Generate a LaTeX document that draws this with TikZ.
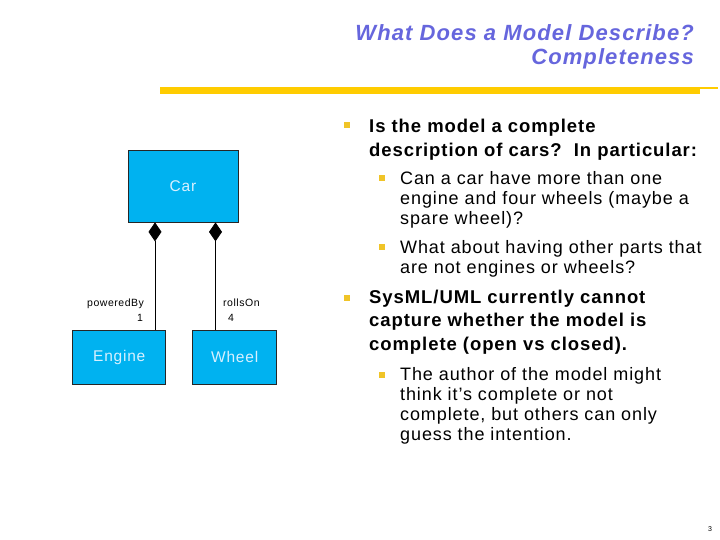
\documentclass[tikz,border=0pt]{standalone}
\usepackage{fontspec}
\setmainfont{Liberation Sans}
\newfontfamily\lsp[LetterSpace=5]{Liberation Sans}
\usetikzlibrary{arrows.meta}
\definecolor{boxblue}{RGB}{0,178,240}
\definecolor{boxtext}{RGB}{215,240,255}
\definecolor{titleblue}{RGB}{102,102,221}
\definecolor{bargold}{RGB}{255,204,0}
\definecolor{bulletgold}{RGB}{240,196,40}
\tikzset{
  umlbox/.style={draw=black!85, line width=0.8pt, fill=boxblue, text=boxtext, font=\lsp\fontsize{15.5}{18}\selectfont, inner sep=0pt},
  comp/.style={line width=0.8pt, {Diamond[length=19pt,width=13pt,fill=black]}-},
  rolelab/.style={anchor=base west, inner sep=0pt, font=\lsp\fontsize{10.5}{12}\selectfont},
  lvlone/.style={anchor=base west, inner sep=0pt, align=left, font=\lsp\bfseries\fontsize{18.5}{23.5}\selectfont},
  lvltwo/.style={anchor=base west, inner sep=0pt, align=left, font=\lsp\fontsize{18}{20}\selectfont},
  bul/.style={fill=bulletgold, minimum width=6pt, minimum height=6pt, inner sep=0pt},
  titletext/.style={anchor=base east, inner sep=0pt, align=right, text=titleblue, font=\lsp\bfseries\itshape\fontsize{22}{24}\selectfont}
}
\begin{document}
\begin{tikzpicture}[x=1pt,y=-1pt]
\useasboundingbox (0,0) rectangle (720,540);
% title
\node[titletext] (t1) at (694,41) {What Does a Model Describe?};
\node[titletext] (t2) at (694,65) {Completeness};
% bar
\fill[bargold] (160,87) rectangle (700,94);
\fill[bargold] (700,87) rectangle (718,89);
% diagram
\node[umlbox, minimum width=110pt, minimum height=72pt] (car) at (183,186) {Car};
\node[umlbox, minimum width=93pt, minimum height=54pt] (engine) at (119.3,357.3) {Engine};
\node[umlbox, minimum width=84pt, minimum height=54pt] (wheel) at (234.7,357.3) {Wheel};
\coordinate (xl) at (155,0);
\coordinate (xr) at (215.5,0);
\draw[comp] (car.south -| xl) -- (engine.north -| xl);
\draw[comp] (car.south -| xr) -- (wheel.north -| xr);
\node[rolelab] (pb) at (87,306) {poweredBy};
\node[rolelab] (m1) at (137,321) {1};
\node[rolelab] (ro) at (223,306) {rollsOn};
\node[rolelab] (m4) at (228,321) {4};
% bullets (text nodes anchored at the baseline of their last line)
\node[bul] (b1) at (346.5,125) {};
\node[lvlone] (p1) at (369,156.5) {Is the model a complete\\description of cars?\ \ In particular:};
\node[bul] (b2) at (381.7,178) {};
\node[lvltwo] (p2) at (400,225) {Can a car have more than one\\engine and four wheels (maybe a\\spare wheel)?};
\node[bul] (b3) at (381.7,247) {};
\node[lvltwo] (p3) at (400,273) {What about having other parts that\\are not engines or wheels?};
\node[bul] (b4) at (346.5,298) {};
\node[lvlone] (p4) at (369,350) {SysML/UML currently cannot\\capture whether the model is\\complete (open vs closed).};
\node[bul] (b5) at (381.7,375) {};
\node[lvltwo] (p5) at (400,440) {The author of the model might\\think it’s complete or not\\complete, but others can only\\guess the intention.};
% page number
\node[anchor=base, inner sep=0pt, font=\fontsize{7}{8}\selectfont] (pg) at (710,531) {3};
\end{tikzpicture}
\end{document}
